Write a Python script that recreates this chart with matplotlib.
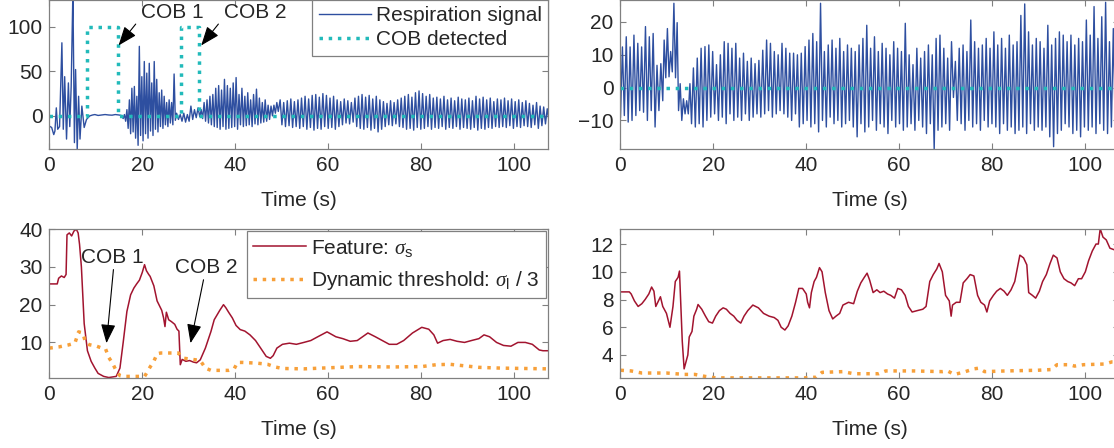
import matplotlib.pyplot as plt
import numpy as np

plt.rcParams['font.family'] = ['Liberation Sans', 'DejaVu Sans']
plt.rcParams['mathtext.fontset'] = 'custom'
plt.rcParams['mathtext.rm'] = 'Liberation Sans'
plt.rcParams['mathtext.it'] = 'Liberation Serif:italic'

BLUE = '#2E4FA0'
CYAN = '#22BABA'
RED = '#A2142F'
ORANGE = '#F7A03A'
TEXT = '#262626'
SPINE = '#808080'
FS = 15
XMAX = 107.4

# ---------------- top left : respiration signal with COB ----------------
# irregular start and the flat apnoea part (time, value)
tl_a_t = [0, 0.5, 0.95, 1.2, 1.5, 1.8, 2.2, 2.7, 3.0, 3.3, 3.7, 4.1, 4.4, 4.7, 5.07, 5.4, 5.65,
          6.0, 6.3, 6.6, 7.0, 7.5, 8.0, 8.7, 9.3, 9.8, 10.5, 11.2, 12.0, 12.8, 13.5, 14.2, 15.0, 15.5]
tl_a_v = [-11.5, -13, -21, -17, 9, -15, -12, 82, -15, 44, -26, 37, -12, 33, 140, -30, 52,
          -38, 22, -26, 11, -13, -4, 0, 1, 1.5, 0.5, 1, 1.5, 1, 0.8, 1.5, 1, 0.5]
# breathing bursts: alternating extremes, spread evenly over each span
tl_c1_span = (15.9, 27.4)
tl_c1_trough = [-3, -6, -14, -20, -18, -25, -33, -22, -28, -20, -25, -17, -22, -15, -18, -12,
                -14, -10, -12, -8, -10, -5]
tl_c1_peak = [1.5, 7, 18, 31, 33, 22, 78, 44, 61, 48, 59, 37, 61, 41, 26, 29, 22, 15, 18, 15, 47, 3]
tl_c2_span = (27.8, 32.4)
tl_c2 = [-4, 1.5, -6, 3, -7, 1.5, -6, 11, -4, 7, -2, 9, -1]
tl_c3_span = (32.7, 49.3)
tl_c3_peak = [7, 15, 18, 22, 24, 31, 34, 29, 41, 34, 31, 37, 43, 24, 31, 22, 26, 18, 24, 30,
              20, 15, 18, 12, 11, 12, 15]
tl_c3_trough = [-3, -6, -8, -10, -12, -13, -15, -12, -15, -14, -13, -12, -15, -10, -12, -11,
                -10, -12, -9, -10, -8, -7, -6, -4, 0, 3, 5]
tl_c4_span = (49.7, 107.6)
tl_c4_peak = [18, 15, 17, 19, 16, 18, 20,
              22, 19, 23, 24, 21, 25, 23, 20, 22,
              18, 16, 19, 17, 15,
              20, 22, 24, 21, 23, 19, 22, 18,
              16, 14, 17, 15, 18,
              20, 22, 24, 21, 26, 28, 25, 22, 24, 20, 21,
              19, 22, 18, 20, 17, 21, 19, 18,
              20, 17, 22, 19, 21, 18, 20, 16, 19,
              18, 20, 17, 19, 16, 18, 15, 17,
              14, 12, 15, 11, 10, 8]
tl_c4_trough = [-10, -12, -11, -13, -12, -14, -12,
                -15, -13, -16, -14, -15, -12, -14, -13, -15,
                -12, -10, -8, -9, -7,
                -12, -14, -15, -13, -16, -14, -18, -15,
                -12, -10, -11, -9, -12,
                -13, -15, -14, -16, -13, -15, -14, -12, -15, -13, -14,
                -12, -15, -13, -14, -12, -15, -13, -14,
                -15, -13, -16, -14, -15, -13, -14, -12, -13,
                -12, -13, -11, -14, -12, -13, -11, -12,
                -13, -10, -14, -11, -9, -6]
# COB detection output (square wave)
tl_cob_t = [0, 8.2, 8.2, 14.8, 14.8, 28.3, 28.3, 32.3, 32.3, XMAX]
tl_cob_v = [0, 0, 100, 100, 0, 0, 100, 100, 0, 0]

# ---------------- top right : respiration signal, no COB ----------------
tr_a_span = (0, 9.1)
tr_a = [-9, 12.4, -8.5, 15.5, -10.5, 12.4, -10, 16, -8.5, 13.5, -7, 12.4, -7.5, 18.6, -10,
        15.5, -7, 16.5, -12, 6.8, -7, 7.3, -4]
tr_b_span = (9.4, 12.2)
tr_b = [14.5, 3, 18, 3.3, 11, 4.8, 25.7, 3, 19.8]
tr_c_span = (12.5, 15.3)
tr_c = [-7, 1.2, -10, -3.4, -8, -4, -8, 1.2, -11]
tr_d_span = (15.7, 108.2)
tr_d_peak = [6, 9, 12, 12.5, 13,
             11, 7, 10, 14, 13.5, 12, 13.5, 9, 10.5, 8, 9, 7.3,
             8.3, 11.4, 14.5, 13.5, 11, 10, 13.5, 12, 10.5, 10.5, 10, 10.5,
             12.5, 14.5, 16.5, 14, 25.7, 11, 13, 14.5, 12, 15, 11, 13,
             12, 11, 13, 15, 19, 12, 15.5, 11, 13.5, 12, 10, 14, 12, 11, 19.6,
             10, 7, 12, 9, 11, 13, 10, 15, 16, 12, 9, 14,
             8, 12, 13, 11, 20.6, 14, 12, 13, 15, 12,
             17, 13, 15, 12, 16, 13, 14, 22, 25.5, 17, 13, 15,
             14, 12, 19, 13, 15, 17, 16, 14, 16, 13, 15, 14,
             20.6, 16, 24.7, 15, 21.6, 26, 14, 18, 15, 16]
tr_d_trough = [-12, -11, -12, -10, -9,
               -8, -10, -9, -11, -8, -10, -9, -10, -8, -10, -9, -8,
               -9, -8, -7, -9, -8, -7, -8, -9, -10, -8, -12, -11,
               -10, -12, -11, -13.5, -10, -12, -9, -11, -10, -12, -11, -10,
               -12, -15, -11, -13.5, -12, -10, -13, -11, -12, -14, -10, -12, -11, -13, -12,
               -11, -13, -10, -12, -14, -11, -19, -13, -12, -11, -13, -3,
               -10, -11, -13, -10, -12, -11, -13, -10, -12, -11,
               -12, -14, -11, -13, -12, -14, -13, -12, -14, -11, -13, -12,
               -13, -12, -15, -18, -14, -13, -11, -12, -14, -13, -15, -12,
               -13, -12, -14, -11, -13, -14, -12, -13, -10, -12]

# ---------------- bottom left : feature and threshold ----------------
bl_feat_t = [0, 1.7, 2.0, 2.6, 3.2, 3.6, 3.8, 4.3, 4.8, 5.3, 5.8, 6.2, 6.5, 6.9, 7.5, 8.2, 9.0, 9.8, 10.5, 11.7,
             12.8, 14.4, 15.2, 15.9, 16.7, 17.5, 18.2, 18.8, 19.4, 20.0, 20.5, 20.9, 21.4, 21.7, 22.5, 23.2, 23.8, 24.2, 24.6, 24.9,
             25.2, 25.7, 26.3, 27.0, 27.5, 27.9, 28.2, 28.6, 29.4, 30.2, 31.0, 31.7, 32.5, 33.6, 34.8, 35.5, 36.7, 37.5, 38.0, 38.6,
             39.4, 40.2, 41.1, 42.1, 43.2, 44.4, 45.5, 46.7, 47.6, 48.2, 49.0, 50.2, 51.7, 53.2, 54.8, 56.3, 57.8, 59.8, 61.7, 63.2,
             64.8, 66.3, 68.6, 70.2, 71.7, 73.2, 74.8, 76.3, 78.2, 80.2, 81.7, 82.8, 83.6, 84.8, 86.3, 87.8, 89.4, 90.9, 92.5, 93.6,
             94.8, 96.3, 97.8, 99.4, 100.9, 102.5, 104.0, 105.5, 106.3, 107.4]
bl_feat_v = [25.5, 25.5, 27.0, 27.6, 27.2, 28.0, 38.5, 39.0, 38.2, 39.5, 40.0, 39.0, 36.0, 30.0, 15.0, 7.8, 5.0, 3.2, 1.8, 1.0,
             0.7, 1.0, 3.2, 10.0, 18.2, 22.6, 24.4, 25.5, 26.5, 28.5, 30.6, 29.0, 28.0, 27.5, 25.0, 21.0, 19.5, 18.5, 16.5, 14.2,
             18.0, 16.0, 15.5, 14.8, 13.5, 13.0, 4.1, 5.5, 5.0, 5.2, 4.8, 4.6, 5.4, 8.5, 12.9, 16.0, 18.5, 20.0, 19.2, 18.0,
             16.5, 14.5, 13.4, 13.0, 12.0, 10.5, 8.5, 6.3, 5.8, 6.5, 8.5, 9.5, 9.8, 9.5, 10.0, 10.5, 11.5, 12.8, 11.5, 11.0,
             10.3, 10.5, 12.5, 11.5, 10.5, 9.5, 9.5, 10.5, 12.5, 14.0, 13.5, 12.0, 9.8, 10.5, 10.8, 10.3, 10.0, 10.5, 11.0, 12.0,
             11.5, 10.0, 9.2, 9.0, 10.0, 10.0, 9.5, 8.0, 7.8, 7.8]
bl_thr_t = [0, 2.0, 4.0, 5.5, 6.3, 7.2, 7.8, 8.6, 10.2, 11.3, 12.1, 12.8, 13.6, 14.4, 15.2, 15.9, 20.5, 20.9, 21.7, 22.5,
            23.2, 24.0, 27.8, 28.2, 29.0, 30.9, 32.5, 33.6, 34.8, 38.6, 39.8, 40.5, 41.7, 44.8, 47.0, 48.6, 50.2, 54.8, 58.6, 62.5,
            66.3, 74.0, 80.2, 83.3, 86.3, 89.4, 92.5, 97.1, 107.4]
bl_thr_v = [8.5, 8.8, 9.3, 9.8, 12.8, 12.5, 10.0, 9.4, 9.0, 8.5, 8.3, 6.0, 4.5, 2.5, 1.2, 1.0, 1.0, 1.8, 3.5, 5.0,
            7.0, 7.2, 7.2, 6.5, 5.8, 5.5, 5.2, 3.2, 2.6, 2.6, 3.0, 4.7, 4.7, 4.5, 4.2, 3.5, 3.1, 3.0, 3.2, 3.4,
            3.6, 3.5, 3.6, 4.1, 4.2, 3.8, 3.4, 3.2, 3.0]

# ---------------- bottom right : feature and threshold ----------------
br_feat_t = [0, 1.9, 2.3, 3.0, 3.8, 4.6, 5.3, 6.1, 6.7, 7.2, 7.6, 8.6, 9.1, 9.9, 10.65, 11.3, 11.8, 12.4, 12.7, 12.95,
             13.3, 13.7, 14.1, 14.5, 14.8, 15.4, 15.8, 16.4, 16.7, 17.5, 18.3, 19.0, 19.8, 20.5, 21.3, 22.1, 22.8, 23.6, 24.4, 25.1,
             25.9, 26.6, 27.4, 28.5, 29.7, 30.8, 32.0, 33.1, 33.9, 34.6, 35.4, 36.1, 36.9, 37.7, 38.4, 39.2, 40.0, 40.3, 40.7, 41.1,
             41.7, 42.2, 42.85, 43.4, 44.1, 44.9, 45.7, 46.4, 47.2, 47.9, 49.1, 50.2, 51.0, 51.75, 52.5, 53.1, 53.65, 54.4, 55.2, 55.9,
             56.7, 57.5, 58.2, 59.0, 59.7, 60.5, 61.3, 62.0, 62.8, 63.9, 65.1, 65.8, 66.6, 67.35, 68.1, 68.6, 69.3, 70.0, 70.8, 71.2,
             71.5, 72.3, 73.1, 73.8, 74.6, 75.3, 76.1, 76.9, 77.6, 78.4, 78.9, 79.5, 80.3, 81.0, 81.8, 82.6, 83.3, 84.1, 84.9, 85.6,
             86.0, 86.8, 87.5, 87.9, 88.7, 89.4, 90.2, 90.9, 91.7, 92.5, 93.2, 94.0, 94.7, 95.5, 96.3, 97.0, 97.8, 98.6, 99.3, 100.1,
             100.8, 101.6, 102.4, 102.9, 103.3, 103.9, 104.6, 105.4, 106.2, 108.0]
br_feat_v = [8.55, 8.55, 8.4, 7.9, 7.5, 7.7, 8.0, 8.4, 8.9, 8.6, 7.5, 8.2, 7.5, 7.0, 6.0, 7.5, 9.3, 9.6, 10.05, 8.0,
             5.0, 3.0, 3.5, 4.0, 5.3, 5.7, 6.8, 7.3, 7.64, 7.3, 6.8, 6.4, 6.3, 6.8, 7.2, 7.4, 7.3, 7.0, 6.8, 6.5,
             6.3, 6.8, 7.2, 7.6, 7.4, 7.0, 6.8, 6.7, 6.5, 6.0, 5.8, 6.1, 6.8, 7.8, 8.8, 8.8, 8.4, 7.8, 7.4, 8.5,
             9.3, 9.6, 10.3, 10.0, 8.5, 7.2, 6.6, 6.8, 7.0, 7.6, 7.8, 7.7, 8.6, 9.2, 9.6, 9.9, 9.4, 8.5, 8.7, 8.5,
             8.6, 8.4, 8.3, 8.1, 8.8, 8.7, 8.3, 7.5, 7.1, 7.2, 7.3, 7.5, 9.3, 9.8, 10.2, 10.6, 10.0, 8.3, 7.9, 6.8,
             7.6, 7.8, 7.8, 9.2, 9.5, 9.8, 9.7, 8.3, 7.8, 7.6, 7.1, 7.9, 8.3, 8.6, 8.8, 8.6, 8.3, 8.7, 9.3, 10.5,
             11.2, 11.0, 10.5, 8.5, 8.3, 8.1, 8.6, 9.3, 9.8, 10.6, 11.2, 11.0, 10.0, 9.5, 9.3, 9.2, 9.0, 9.5, 9.5, 10.0,
             10.8, 11.5, 12.0, 12.0, 13.1, 12.5, 12.3, 11.7, 11.6, 11.4]
br_thr_t = [0, 2.3, 4.6, 6.8, 9.9, 13.7, 16.0, 18.3, 20.5, 25.1, 32.7, 39.6, 42.2, 43.4, 47.9, 50.2, 55.6, 57.1,
            63.2, 69.3, 70.4, 71.9, 73.8, 76.1, 77.2, 78.4, 83.0, 89.8, 92.8, 94.0, 96.7, 97.8, 99.7, 104.3, 105.8, 108.0]
br_thr_v = [2.9, 2.85, 2.7, 2.7, 2.7, 2.6, 2.6, 2.45, 2.35, 2.35, 2.35, 2.35, 2.4, 2.75, 2.8, 2.65, 2.65, 2.85,
            2.85, 2.8, 2.85, 2.6, 2.75, 3.0, 3.05, 2.8, 2.85, 2.9, 2.95, 3.3, 3.3, 3.2, 3.3, 3.35, 3.5, 3.5]


def alternate(a, b):
    return list(np.column_stack([a, b]).ravel())


def spread(span, vals):
    return list(np.linspace(span[0], span[1], len(vals))), list(vals)


def build(parts):
    t, v = [], []
    for pt, pv in parts:
        t += list(pt)
        v += list(pv)
    return np.array(t), np.array(v)


tl_t, tl_v = build([(tl_a_t, tl_a_v),
                    spread(tl_c1_span, alternate(tl_c1_trough, tl_c1_peak)),
                    spread(tl_c2_span, tl_c2),
                    spread(tl_c3_span, alternate(tl_c3_peak, tl_c3_trough)),
                    spread(tl_c4_span, alternate(tl_c4_peak, tl_c4_trough))])
tr_t, tr_v = build([spread(tr_a_span, tr_a),
                    spread(tr_b_span, tr_b),
                    spread(tr_c_span, tr_c),
                    spread(tr_d_span, alternate(tr_d_peak, tr_d_trough))])


def style(ax, ylim, yticks):
    ax.set_xlim(0, XMAX)
    ax.set_ylim(*ylim)
    ax.set_xticks([0, 20, 40, 60, 80, 100])
    ax.set_yticks(yticks)
    for s in ax.spines.values():
        s.set_color(SPINE)
        s.set_linewidth(0.9)
    ax.tick_params(direction='in', length=4, width=0.8, color=SPINE, labelcolor=TEXT,
                   labelsize=FS, top=True, right=True, pad=5)
    ax.set_xlabel('Time (s)', fontsize=FS, color=TEXT, labelpad=11)


def arrow(ax, tip, tail):
    ax.annotate('', xy=tip, xytext=tail,
                arrowprops=dict(arrowstyle='-|>,head_length=0.65,head_width=0.25',
                                mutation_scale=18, color='k', lw=0.8,
                                shrinkA=0, shrinkB=0))


def legend(ax, pad, spacing):
    leg = ax.legend(loc='upper right', fontsize=FS, frameon=True, fancybox=False,
                    edgecolor=SPINE, framealpha=1, borderaxespad=pad, handlelength=2.5,
                    handletextpad=0.25, borderpad=0.3, labelspacing=spacing)
    leg.get_frame().set_linewidth(0.9)
    for tx in leg.get_texts():
        tx.set_color(TEXT)


fig = plt.figure(figsize=(11.14, 4.48), dpi=100)
W = 0.4477
ax1 = fig.add_axes([0.0443, 0.6667, W, 0.3333])
ax2 = fig.add_axes([0.5570, 0.6667, W, 0.3333])
ax3 = fig.add_axes([0.0443, 0.1556, W, 0.3337])
ax4 = fig.add_axes([0.5570, 0.1556, W, 0.3337])

# top left
ax1.plot(tl_t, tl_v, color=BLUE, lw=1.0, label='Respiration signal')
ax1.plot(tl_cob_t, tl_cob_v, color=CYAN, lw=2.5, ls=':', label='COB detected')
style(ax1, (-37.5, 130), [0, 50, 100])
ax1.text(26.4, 116, 'COB 1', fontsize=FS, color=TEXT, ha='center', va='center')
ax1.text(44.4, 116, 'COB 2', fontsize=FS, color=TEXT, ha='center', va='center')
arrow(ax1, (14.9, 79), (18.6, 103))
arrow(ax1, (32.7, 79), (36.4, 103))
legend(ax1, 0.0, 0.25)

# top right
ax2.plot(tr_t, tr_v, color=BLUE, lw=1.0)
ax2.plot([0, 110], [0, 0], color=CYAN, lw=2.5, ls=':')
style(ax2, (-18.8, 26.7), [-10, 0, 10, 20])

# bottom left
ax3.plot(bl_feat_t, bl_feat_v, color=RED, lw=1.1, label=r'Feature: $\sigma_\mathrm{s}$')
ax3.plot(bl_thr_t, bl_thr_v, color=ORANGE, lw=2.5, ls=':',
         label=r'Dynamic threshold: $\sigma_\mathrm{l}$ / 3')
style(ax3, (0.5, 40.1), [10, 20, 30, 40])
ax3.text(13.5, 32.4, 'COB 1', fontsize=FS, color=TEXT, ha='center', va='center')
ax3.text(33.8, 29.9, 'COB 2', fontsize=FS, color=TEXT, ha='center', va='center')
arrow(ax3, (12.3, 9.8), (13.8, 29.3))
arrow(ax3, (30.4, 9.8), (33.2, 26.6))
legend(ax3, 0.12, 0.5)

# bottom right
ax4.plot(br_feat_t, br_feat_v, color=RED, lw=1.1)
ax4.plot(br_thr_t, br_thr_v, color=ORANGE, lw=2.5, ls=':')
style(ax4, (2.32, 13.1), [4, 6, 8, 10, 12])

fig.savefig('out.png', dpi=100)
